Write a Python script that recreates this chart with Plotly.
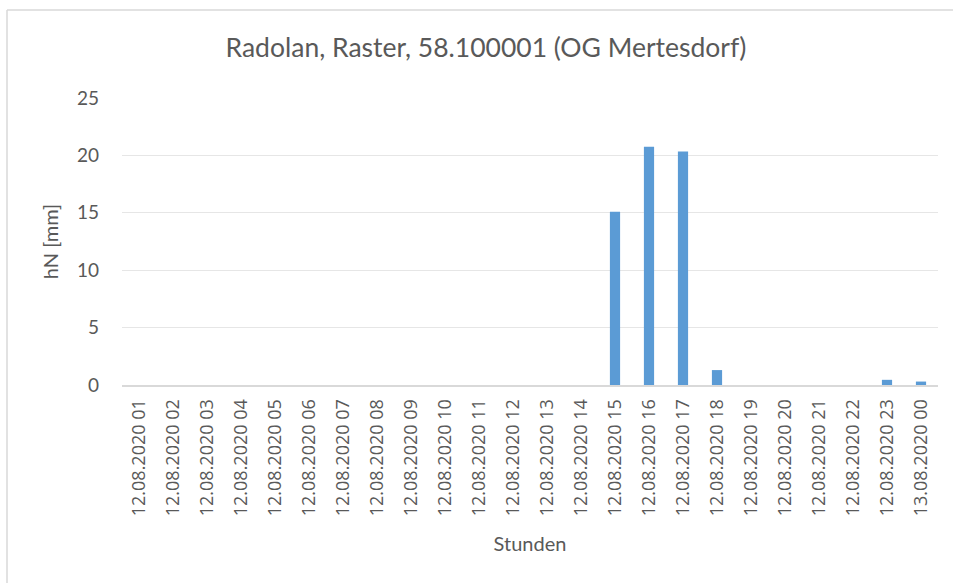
import plotly.graph_objects as go

categories = [f"12.08.2020 {h:02d}" for h in range(1, 24)] + ["13.08.2020 00"]
values = [0, 0, 0, 0, 0, 0, 0, 0, 0, 0, 0, 0, 0, 0,
          15.1, 20.75, 20.35, 1.3, 0, 0, 0, 0, 0.45, 0.3]
y_ticks = [0, 5, 10, 15, 20, 25]

fig = go.Figure()
fig.add_trace(go.Bar(
    x=categories, y=values,
    marker=dict(color="#5b9bd5", line=dict(width=0)),
))

fig.update_layout(
    width=953, height=583,
    margin=dict(l=122, r=15, t=98, b=198),
    paper_bgcolor="white", plot_bgcolor="white",
    bargap=0.7,
    showlegend=False,
    title=dict(text="Radolan, Raster, 58.100001 (OG Mertesdorf)",
               x=486 / 953, xanchor="center", y=1 - 48 / 583, yanchor="middle",
               font=dict(family="Lato", size=26.5, color="#595959")),
    font=dict(family="Open Sans", color="#595959"),
)
fig.update_xaxes(
    type="category",
    tickangle=-90,
    tickfont=dict(family="Open Sans", size=18, color="#595959"),
    showline=True, linecolor="#d9d9d9", linewidth=2,
    showgrid=False, ticks="", ticklabelstandoff=5,
    title=dict(text="Stunden", font=dict(family="Lato", size=20, color="#595959"), standoff=22),
)
fig.update_yaxes(
    range=[0, 25], tickvals=y_ticks,
    tickfont=dict(family="Lato", size=19, color="#595959"),
    showgrid=True, gridcolor="#e6e6e6", gridwidth=1,
    zeroline=False, showline=False, ticks="", ticklabelstandoff=22,
    title=dict(text="hN [mm]", font=dict(family="Lato", size=20, color="#595959"), standoff=12),
)
# outer chart border (left and top edges)
fig.add_shape(type="line", xref="paper", yref="paper",
              x0=(7 - 122) / 816, x1=2, y0=(385 - 10) / 287, y1=(385 - 10) / 287,
              line=dict(color="#d9d9d9", width=1.5))
fig.add_shape(type="line", xref="paper", yref="paper",
              x0=(7 - 122) / 816, x1=(7 - 122) / 816, y0=-2, y1=(385 - 10) / 287,
              line=dict(color="#d9d9d9", width=1.5))

fig.write_html("out.html", config={"displayModeBar": False},
               post_script="document.body.style.margin='0';")
